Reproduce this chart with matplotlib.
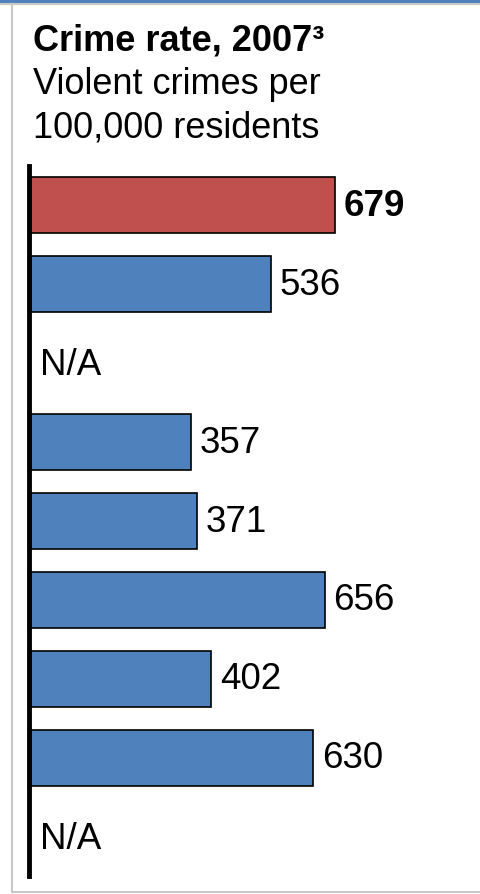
import matplotlib
matplotlib.use("Agg")
import matplotlib.pyplot as plt
import numpy as np

plt.rcParams['font.family'] = ['Liberation Sans', 'DejaVu Sans']

# data (top to bottom), None = not available
values = [679, 536, None, 357, 371, 656, 402, 630, None]
highlight = [True, False, False, False, False, False, False, False, False]

RED = '#c0504d'
BLUE = '#4f81bd'

fig = plt.figure(figsize=(4.81, 8.95), dpi=100)

# frame decoration: blue band on top, grey panel border
fig.patches.append(plt.Rectangle((0, 1 - 4/895), 1, 4/895, transform=fig.transFigure,
                                 color=BLUE, zorder=0))
fig.add_artist(plt.Line2D([0, 1], [1 - 5/895, 1 - 5/895], color='#c8c8c8', lw=1.5))
fig.add_artist(plt.Line2D([11.5/481, 11.5/481], [1 - 5/895, 1 - 893/895], color='#c8c8c8', lw=1.5))
fig.add_artist(plt.Line2D([11.5/481, 1], [1 - 893/895, 1 - 893/895], color='#c8c8c8', lw=1.5))

# titles
fig.text(33/481, 1 - 50/895, 'Crime rate, 2007³', fontsize=26, fontweight='bold',
         ha='left', va='baseline')
fig.text(33/481, 1 - 94/895, 'Violent crimes per', fontsize=26, ha='left', va='baseline')
fig.text(33/481, 1 - 137/895, '100,000 residents', fontsize=26, ha='left', va='baseline')

ax = fig.add_axes([29/481, 1 - 877/895, 452/481, (877 - 167)/895])
n = len(values)
for i, (v, hl) in enumerate(zip(values, highlight)):
    if v is None:
        ax.text(20, i + 0.02, 'N/A', fontsize=26.5, va='center', ha='left')
        continue
    ax.barh(i, v, height=0.71, left=0, color=RED if hl else BLUE,
            edgecolor='black', linewidth=1.2)
    ax.text(v + 20, i, str(v), fontsize=26.5, va='center', ha='left',
            fontweight='bold' if hl else 'normal')

ax.set_ylim(n - 0.5, -0.5)
ax.set_xlim(-4, 1005)
ax.axvline(-4, color='black', lw=3.5, clip_on=False)
for s in ax.spines.values():
    s.set_visible(False)
ax.set_xticks([])
ax.set_yticks([])
ax.patch.set_alpha(0)

fig.savefig('out.png', dpi=100)
